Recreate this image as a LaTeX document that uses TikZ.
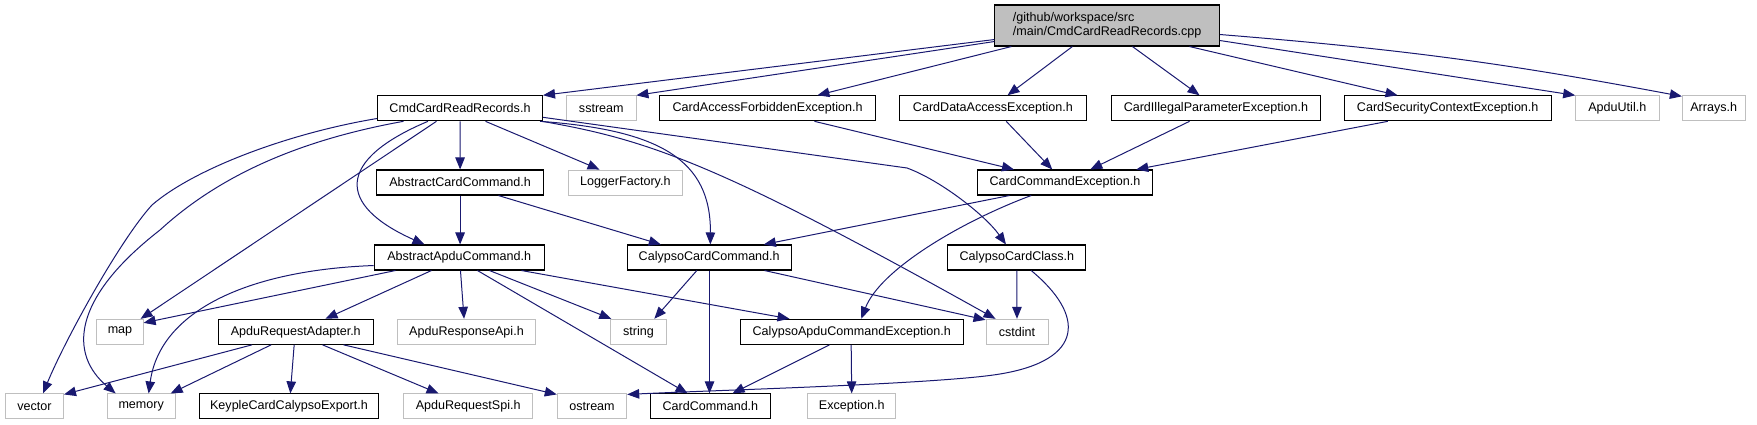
\documentclass[tikz,border=0pt]{standalone}
\usepackage{fontspec}
\setmainfont{Liberation Sans}
\usetikzlibrary{arrows.meta,calc}
\definecolor{edgeblue}{HTML}{191970}
\definecolor{graybd}{HTML}{BFBFBF}
\definecolor{cppfill}{HTML}{BFBFBF}
\begin{document}
\begin{tikzpicture}[x=1pt,y=-1pt,
  every node/.style={font=\fontsize{12.56}{13.5}\selectfont, inner sep=0pt, minimum height=25pt, fill=white},
  blk/.style={draw=black, line width=1.05pt},
  gry/.style={draw=graybd, line width=0.9pt},
  edge/.style={draw=edgeblue, line width=1pt, -{Triangle[length=12pt,width=9.5pt]}}]
\useasboundingbox (0,0) rectangle (1757,425);
% row 0
\node[blk, fill=cppfill, minimum width=224.5pt, minimum height=41pt, align=left] (cpp) at (1107.2,25.5) {/github/workspace/src\\/main/CmdCardReadRecords.cpp};
% row 1
\node[blk, minimum width=165pt] (cmd) at (460,108.3) {CmdCardReadRecords.h};
\node[gry, minimum width=69.3pt] (sstream) at (601.3,108.3) {sstream};
\node[blk, minimum width=216.7pt] (cafe) at (767.6,108.3) {CardAccessForbiddenException.h};
\node[blk, minimum width=186.7pt] (cdae) at (992.9,108.3) {CardDataAccessException.h};
\node[blk, minimum width=209.7pt] (cipe) at (1215.9,108.3) {CardIllegalParameterException.h};
\node[blk, minimum width=206.7pt] (csce) at (1447.7,108.3) {CardSecurityContextException.h};
\node[gry, minimum width=83.3pt] (apduutil) at (1617.3,108.3) {ApduUtil.h};
\node[gry, minimum width=62.7pt] (arrays) at (1713.7,108.3) {Arrays.h};
% row 2
\node[blk, minimum width=166.3pt] (acc) at (460.1,182.5) {AbstractCardCommand.h};
\node[gry, minimum width=114pt] (logger) at (625.3,182.5) {LoggerFactory.h};
\node[blk, minimum width=175pt] (cce) at (1065,182.5) {CardCommandException.h};
% row 3
\node[blk, minimum width=170pt] (aac) at (459.2,257.5) {AbstractApduCommand.h};
\node[blk, minimum width=163.7pt] (ccc) at (709.2,257.5) {CalypsoCardCommand.h};
\node[blk, minimum width=138pt] (cclass) at (1016.9,257.5) {CalypsoCardClass.h};
% row 4
\node[gry, minimum width=46.3pt] (map) at (120,331.8) {map};
\node[blk, minimum width=154.6pt] (ara) at (295.8,331.8) {ApduRequestAdapter.h};
\node[gry, minimum width=138.6pt] (arapi) at (466.5,331.8) {ApduResponseApi.h};
\node[gry, minimum width=55.3pt] (string) at (638.4,331.8) {string};
\node[blk, minimum width=223pt] (cace) at (851.8,331.8) {CalypsoApduCommandException.h};
\node[gry, minimum width=62pt] (cstdint) at (1017,331.8) {cstdint};
% row 5
\node[gry, minimum width=58.1pt] (vector) at (34.5,406.4) {vector};
\node[gry, minimum width=68.2pt] (memory) at (141.2,406.4) {memory};
\node[blk, minimum width=179.9pt] (kcce) at (289,406.4) {KeypleCardCalypsoExport.h};
\node[gry, minimum width=129pt] (arspi) at (468.2,406.4) {ApduRequestSpi.h};
\node[gry, minimum width=69.5pt] (ostream) at (592,406.4) {ostream};
\node[blk, minimum width=119.3pt] (cc) at (710.4,406.4) {CardCommand.h};
\node[gry, minimum width=88pt] (exc) at (851.7,406.4) {Exception.h};
% edges from cpp
\draw[edge] ($(cpp.south west)+(0,-7)$) -- (cmd.north east);
\draw[edge] ($(cpp.south west)+(0,-5)$) -- (sstream.north east);
\draw[edge] ($(cpp.south west)+(17,0)$) -- ($(cafe.north west)+(158.7,0)$);
\draw[edge] ($(cpp.south west)+(78,0)$) -- ($(cdae.north west)+(108.5,0)$);
\draw[edge] ($(cpp.south west)+(138,0)$) -- ($(cipe.north west)+(89,0)$);
\draw[edge] ($(cpp.south west)+(195,0)$) -- ($(csce.north west)+(53.7,0)$);
\draw[edge] ($(cpp.south east)+(0,-6)$) -- (apduutil.north west);
\draw[edge] ($(cpp.south east)+(0,-12)$) to[bend left=3] ($(arrays.north west)+(0,1)$);
% edges from cmd
\draw[edge] (cmd.south) -- (acc.north);
\draw[edge] ($(cmd.south west)+(108.5,0)$) -- ($(logger.north west)+(31.7,0)$);
\draw[edge] ($(cmd.south west)+(51,0)$) .. controls (336,160) and (336,205) .. ($(aac.north west)+(50.8,0)$);
\draw[edge] ($(cmd.south west)+(59.5,0)$) -- ($(map.north east)+(-3,0)$);
\draw[edge] ($(cmd.south west)+(0,-2.8)$) .. controls (290,133) and (195,168) .. (152,205) .. controls (120,240) and (65,340) .. ($(vector.north west)+(38,0)$);
\draw[edge] ($(cmd.south west)+(26.5,0)$) .. controls (300,140) and (220,175) .. (160,230) .. controls (70,300) and (70,355) .. ($(memory.north west)+(9,0)$);
\draw[edge] ($(cmd.south east)+(-3,0)$) .. controls (660,130) and (711,160) .. ($(ccc.north west)+(83.5,0)$);
\draw[edge] ($(cmd.south east)+(-1,0)$) .. controls (650,140) and (720,165) .. ($(cstdint.north west)+(10,0)$);
\draw[edge] ($(cmd.south east)+(0,-4)$) -- (907,168) .. controls (940,180) and (985,215) .. ($(cclass.north west)+(58.6,0)$);
% edges from row 1/2
\draw[edge] (acc.south) -- (acc.south |- aac.north);
\draw[edge] ($(acc.south west)+(122,0)$) -- ($(ccc.north west)+(34,0)$);
\draw[edge] ($(cafe.south west)+(155.7,0)$) -- ($(cce.north west)+(37,0)$);
\draw[edge] ($(cdae.south west)+(107.2,0)$) -- ($(cce.north west)+(75.3,0)$);
\draw[edge] ($(cipe.south west)+(79,0)$) -- ($(cce.north west)+(113.3,0)$);
\draw[edge] ($(csce.south west)+(44,0)$) -- ($(cce.north west)+(159.3,0)$);
\draw[edge] ($(cce.south west)+(32.5,0)$) -- ($(ccc.north west)+(137,0)$);
\draw[edge] ($(cce.south west)+(54.2,0)$) .. controls (960,222) and (880,270) .. ($(cace.north west)+(121.5,0)$);
% edges from aac
\draw[edge] ($(aac.south west)+(21.8,0)$) -- ($(map.north east)+(0,4)$);
\draw[edge] ($(aac.south west)+(0,-5)$) .. controls (250,270) and (160,310) .. ($(memory.north west)+(42,0)$);
\draw[edge] ($(aac.south west)+(57.8,0)$) -- ($(ara.north west)+(107.5,0)$);
\draw[edge] ($(aac.south west)+(86.8,0)$) -- ($(arapi.north west)+(67.3,0)$);
\draw[edge] ($(aac.south west)+(115.8,0)$) -- ($(string.north west)+(1,0)$);
\draw[edge] ($(aac.south west)+(147.8,0)$) -- ($(cace.north west)+(49.7,0)$);
\draw[edge] ($(aac.south west)+(103.8,0)$) -- ($(cc.north west)+(37.3,0)$);
% edges from ara
\draw[edge] ($(ara.south west)+(34.1,0)$) -- ($(vector.north east)+(0,1)$);
\draw[edge] ($(ara.south west)+(53.2,0)$) -- ($(memory.north west)+(64,0)$);
\draw[edge] ($(ara.south west)+(76.2,0)$) -- ($(kcce.north west)+(91.8,0)$);
\draw[edge] ($(ara.south west)+(104.5,0)$) -- ($(arspi.north west)+(35.3,0)$);
\draw[edge] ($(ara.south west)+(125.5,0)$) -- ($(ostream.north west)+(0,1)$);
% edges from ccc, cclass, cace
\draw[edge] ($(ccc.south west)+(70,0)$) -- ($(string.north west)+(44,0)$);
\draw[edge] ($(ccc.south west)+(82.7,0)$) -- ($(cc.north west)+(59.3,0)$);
\draw[edge] ($(ccc.south west)+(137.7,0)$) -- ($(cstdint.north west)+(0,1)$);
\draw[edge] ($(cclass.south west)+(69.4,0)$) -- (cstdint.north);
\draw[edge] ($(cclass.south west)+(83.8,0)$) .. controls (1085,315) and (1085,360) .. (1000,374) .. controls (940,384) and (720,390) .. ($(ostream.north east)+(0,1)$);
\draw[edge] ($(cace.south west)+(89.7,0)$) -- ($(cc.north west)+(82.3,0)$);
\draw[edge] ($(cace.south west)+(111.4,0)$) -- (exc.north);
\end{tikzpicture}
\end{document}
